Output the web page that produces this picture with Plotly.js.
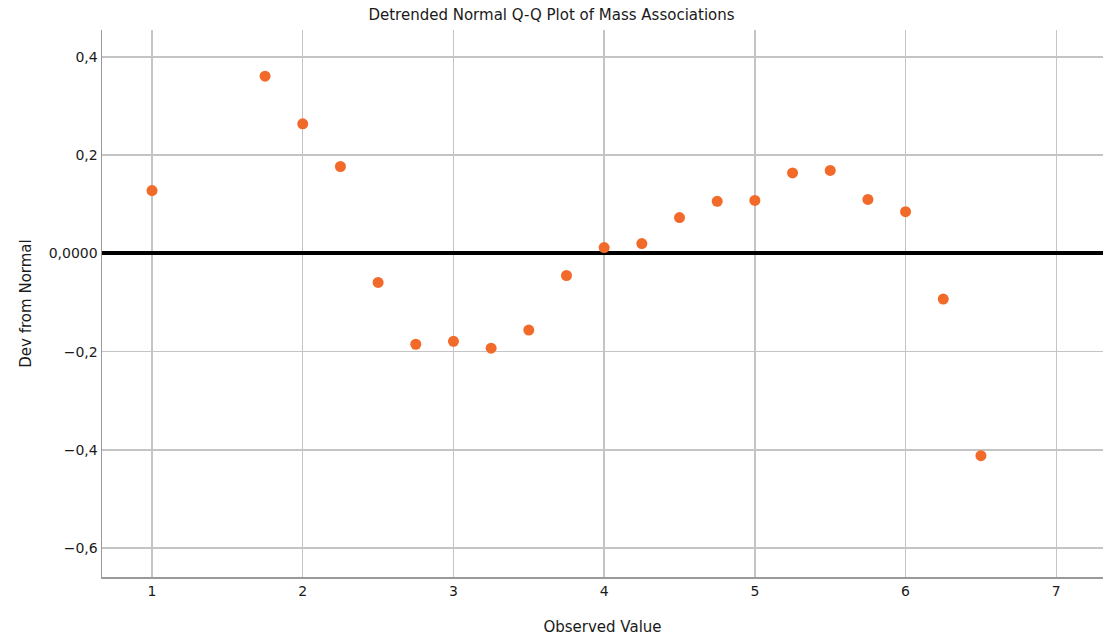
<!DOCTYPE html>
<html>
<head>
<meta charset="utf-8">
<script src="https://cdn.plot.ly/plotly-3.0.1.min.js"></script>
<style>html,body{margin:0;padding:0;background:#fff;}#chart{width:1103px;height:640px;}</style>
</head>
<body>
<div id="chart"></div>
<script>
var observedValue = [1, 1.75, 2, 2.25, 2.5, 2.75, 3, 3.25, 3.5, 3.75, 4, 4.25, 4.5, 4.75, 5, 5.25, 5.5, 5.75, 6, 6.25, 6.5];
var devFromNormal = [0.128, 0.361, 0.264, 0.177, -0.059, -0.185, -0.179, -0.193, -0.156, -0.045, 0.012, 0.020, 0.073, 0.106, 0.108, 0.164, 0.169, 0.110, 0.085, -0.093, -0.412];
var yTickVals = [-0.6, -0.4, -0.2, 0, 0.2, 0.4];
var yTickText = ["\u22120,6", "\u22120,4", "\u22120,2", "0,0000", "0,2", "0,4"];
var xTickVals = [1, 2, 3, 4, 5, 6, 7];
var xTickText = ["1", "2", "3", "4", "5", "6", "7"];

var font = "DejaVu Sans, sans-serif";
var trace = {
  x: observedValue,
  y: devFromNormal,
  type: 'scatter',
  mode: 'markers',
  marker: {color: '#f26a2a', size: 11, line: {width: 0}},
  hoverinfo: 'skip'
};
var layout = {
  width: 1103, height: 640,
  margin: {l: 102, r: 0, t: 30, b: 63},
  paper_bgcolor: '#ffffff', plot_bgcolor: '#ffffff',
  font: {family: font, size: 14, color: '#1a1a1a'},
  showlegend: false,
  title: {text: 'Detrended Normal Q-Q Plot of Mass Associations', x: 0.5, xanchor: 'center', y: 0.977, yanchor: 'middle', font: {family: font, size: 15, color: '#1a1a1a'}},
  xaxis: {
    range: [0.668, 7.31],
    tickmode: 'array', tickvals: xTickVals, ticktext: xTickText,
    showgrid: true, gridcolor: '#c4c4c4', gridwidth: 1.5,
    zeroline: false,
    showline: true, linecolor: '#9a9a9a', linewidth: 2,
    ticks: '', ticklen: 0,
    tickfont: {family: font, size: 14, color: '#1a1a1a'},
    title: {text: 'Observed Value', font: {family: font, size: 15, color: '#1a1a1a'}, standoff: 24}
  },
  yaxis: {
    range: [-0.659, 0.455],
    tickmode: 'array', tickvals: yTickVals, ticktext: yTickText,
    showgrid: true, gridcolor: '#c4c4c4', gridwidth: 1.5,
    zeroline: true, zerolinecolor: '#000000', zerolinewidth: 4,
    showline: true, linecolor: '#9a9a9a', linewidth: 1.5,
    ticks: '', ticklen: 0,
    tickfont: {family: font, size: 14, color: '#1a1a1a'},
    title: {text: 'Dev from Normal', font: {family: font, size: 15, color: '#1a1a1a'}, standoff: 13}
  }
};
Plotly.newPlot('chart', [trace], layout, {displayModeBar: false, staticPlot: true});
</script>
</body>
</html>
